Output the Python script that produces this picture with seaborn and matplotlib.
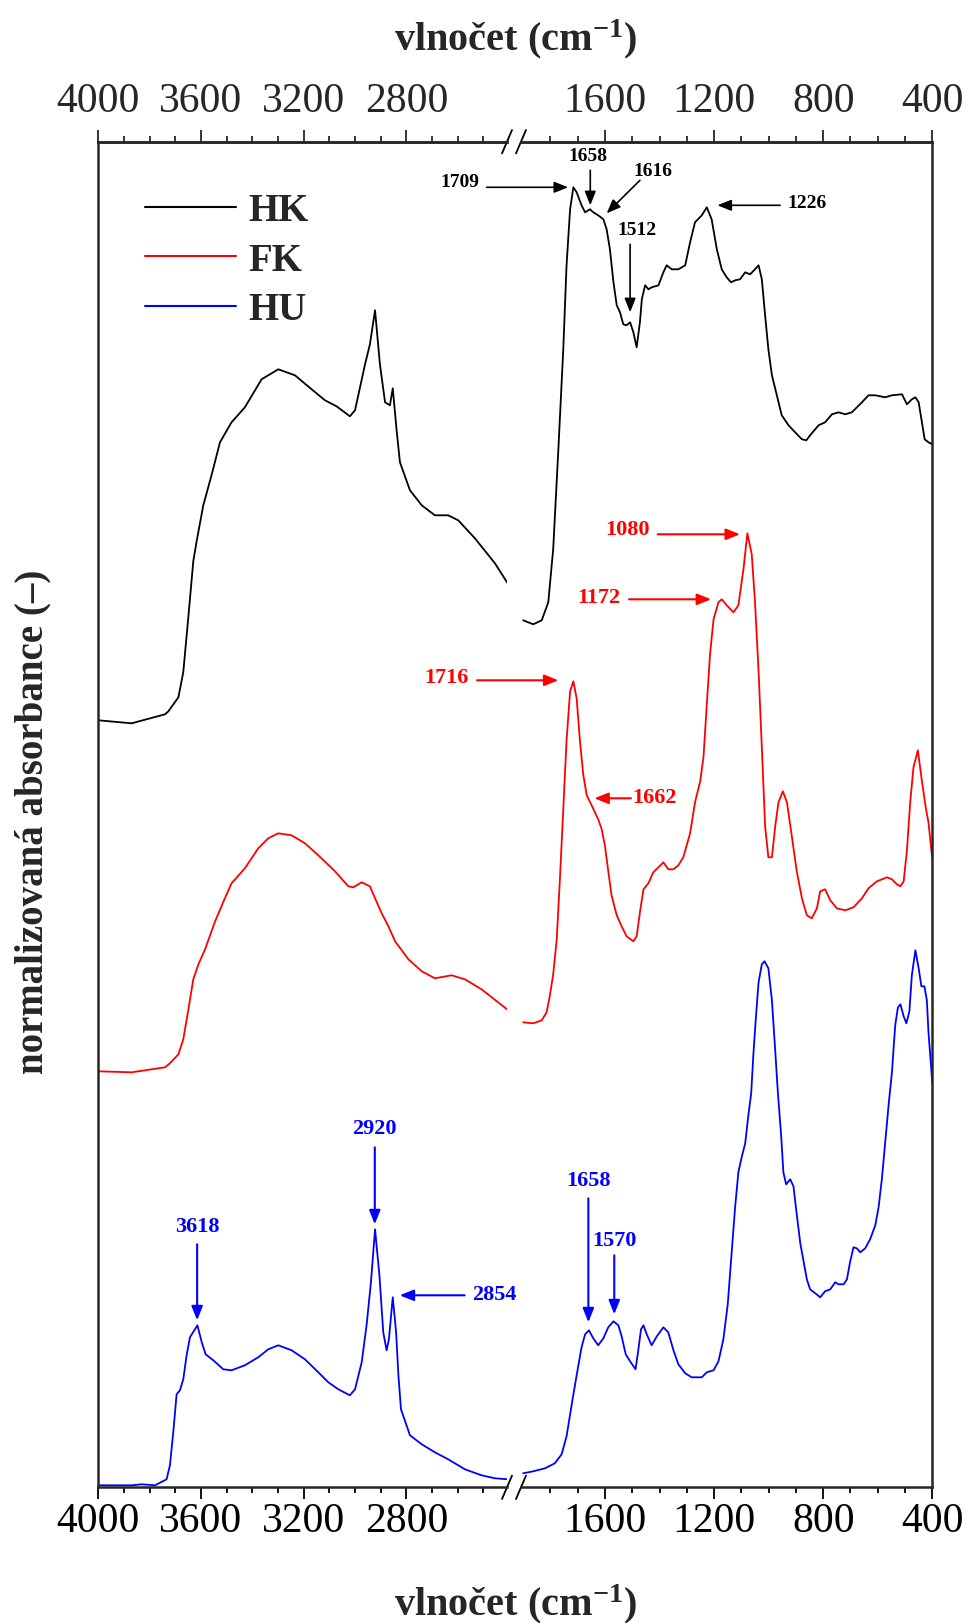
import numpy as np
import pandas as pd
import matplotlib
matplotlib.use('Agg')
import matplotlib.pyplot as plt
from matplotlib.lines import Line2D
from matplotlib.ticker import FixedLocator
import seaborn as sns

# ---------------- data (wavenumber cm-1, stacked normalised absorbance) -------------
samples = ['HK', 'FK', 'HU']
colors = {'HK': '#000000', 'FK': '#ff0000', 'HU': '#0000ff'}

hk_left_w = [4000, 3870, 3740, 3727, 3688, 3669, 3649, 3630, 3617, 3591, 3559, 3526, 3481, 3429,
             3364, 3299, 3234, 3169, 3117, 3072, 3020, 3000, 2961, 2942, 2922, 2903, 2883, 2864,
             2853, 2838, 2825, 2786, 2740, 2689, 2637, 2598, 2533, 2455, 2403]
hk_left_a = [7.67, 7.64, 7.73, 7.76, 7.90, 8.15, 8.71, 9.26, 9.46, 9.82, 10.12, 10.45, 10.65, 10.80,
             11.08, 11.18, 11.12, 10.98, 10.87, 10.81, 10.71, 10.77, 11.23, 11.43, 11.77, 11.23, 10.85,
             10.82, 10.99, 10.57, 10.25, 9.97, 9.82, 9.72, 9.72, 9.67, 9.49, 9.24, 9.03]

fk_left_w = [4000, 3870, 3740, 3721, 3688, 3669, 3649, 3630, 3610, 3584, 3545, 3507, 3481, 3429,
             3377, 3338, 3299, 3247, 3195, 3143, 3078, 3026, 3007, 2974, 2942, 2922, 2896, 2870,
             2844, 2792, 2740, 2689, 2624, 2572, 2507, 2403]
fk_left_a = [4.16, 4.15, 4.20, 4.24, 4.33, 4.48, 4.78, 5.08, 5.23, 5.38, 5.66, 5.89, 6.04, 6.19,
             6.39, 6.49, 6.54, 6.52, 6.44, 6.32, 6.16, 6.01, 6.00, 6.05, 6.01, 5.89, 5.74, 5.61,
             5.46, 5.28, 5.16, 5.09, 5.12, 5.08, 4.98, 4.77]

hu_left_w = [4000, 3870, 3831, 3779, 3734, 3721, 3708, 3695, 3682, 3669, 3656, 3643, 3614, 3597,
             3582, 3552, 3513, 3481, 3429, 3377, 3338, 3299, 3247, 3195, 3143, 3104, 3065, 3020,
             3000, 2974, 2955, 2938, 2922, 2905, 2890, 2877, 2868, 2853, 2840, 2831, 2821, 2786,
             2740, 2689, 2637, 2572, 2507, 2455, 2403]
hu_left_a = [0.02, 0.02, 0.03, 0.02, 0.08, 0.22, 0.55, 0.93, 0.97, 1.08, 1.32, 1.50, 1.62, 1.45,
             1.33, 1.27, 1.18, 1.17, 1.22, 1.30, 1.38, 1.42, 1.37, 1.28, 1.15, 1.05, 0.98, 0.92,
             0.98, 1.25, 1.62, 2.05, 2.58, 2.12, 1.55, 1.37, 1.48, 1.90, 1.55, 1.12, 0.78, 0.52,
             0.43, 0.35, 0.28, 0.18, 0.12, 0.09, 0.08]

hk_right_w = [1900, 1863, 1832, 1808, 1790, 1771, 1753, 1741, 1728, 1716,
              1704, 1686, 1673, 1655, 1643, 1625, 1606, 1594, 1582, 1569,
              1557, 1545, 1533, 1521, 1508, 1496, 1484, 1472, 1465, 1453,
              1441, 1429, 1404, 1386, 1374, 1355, 1331, 1306, 1288, 1270,
              1245, 1227, 1209, 1190, 1172, 1154, 1138, 1123, 1105, 1086,
              1068, 1050, 1037, 1025, 1013, 1001, 988, 970, 952, 927,
              903, 878, 862, 848, 817, 793, 768, 744, 719, 695,
              658, 634, 609, 573, 548, 511, 493, 475, 462, 450,
              438, 428, 414, 400]
hk_right_a = [8.67, 8.63, 8.67, 8.85, 9.38, 10.38, 11.38, 12.22, 12.78, 13.00,
              12.95, 12.82, 12.75, 12.78, 12.75, 12.72, 12.68, 12.58, 12.38, 12.05,
              11.82, 11.75, 11.63, 11.62, 11.65, 11.55, 11.40, 11.65, 11.88, 12.02,
              11.98, 12.00, 12.02, 12.15, 12.22, 12.18, 12.18, 12.22, 12.45, 12.65,
              12.72, 12.80, 12.68, 12.38, 12.18, 12.10, 12.05, 12.07, 12.08, 12.15,
              12.13, 12.18, 12.22, 12.08, 11.72, 11.38, 11.12, 10.92, 10.72, 10.62,
              10.55, 10.48, 10.47, 10.52, 10.62, 10.65, 10.73, 10.75, 10.73, 10.75,
              10.85, 10.92, 10.92, 10.90, 10.92, 10.93, 10.83, 10.88, 10.90, 10.85,
              10.65, 10.48, 10.45, 10.43]

fk_right_w = [1900, 1863, 1832, 1814, 1802, 1790, 1777, 1765, 1753, 1741,
              1728, 1716, 1704, 1692, 1680, 1667, 1649, 1625, 1612, 1600,
              1588, 1576, 1557, 1539, 1521, 1496, 1484, 1472, 1459, 1441,
              1423, 1404, 1386, 1368, 1349, 1331, 1313, 1288, 1270, 1251,
              1239, 1227, 1215, 1202, 1184, 1172, 1154, 1129, 1111, 1092,
              1078, 1062, 1050, 1037, 1025, 1013, 1001, 988, 976, 964,
              948, 933, 915, 897, 878, 860, 842, 823, 811, 793,
              774, 750, 719, 689, 658, 634, 603, 566, 548, 530,
              517, 505, 493, 481, 469, 453, 438, 423, 414, 405,
              400]
fk_right_a = [4.65, 4.64, 4.67, 4.75, 4.92, 5.13, 5.48, 6.10, 6.78, 7.47,
              7.96, 8.06, 7.89, 7.47, 7.13, 6.92, 6.82, 6.68, 6.58, 6.41,
              6.16, 5.92, 5.72, 5.61, 5.51, 5.46, 5.51, 5.75, 5.98, 6.04,
              6.15, 6.20, 6.25, 6.18, 6.18, 6.22, 6.30, 6.54, 6.85, 7.06,
              7.30, 7.82, 8.33, 8.68, 8.85, 8.88, 8.82, 8.75, 8.82, 9.19,
              9.54, 9.33, 8.85, 8.16, 7.40, 6.61, 6.30, 6.30, 6.61, 6.85,
              6.96, 6.85, 6.51, 6.16, 5.89, 5.72, 5.69, 5.79, 5.96, 5.98,
              5.87, 5.79, 5.77, 5.80, 5.89, 5.99, 6.06, 6.10, 6.08, 6.03,
              6.01, 6.06, 6.37, 6.85, 7.20, 7.37, 7.06, 6.78, 6.65, 6.41,
              6.28]

hu_right_w = [1900, 1863, 1820, 1784, 1759, 1741, 1722, 1704, 1686, 1673,
              1659, 1643, 1625, 1606, 1588, 1569, 1551, 1539, 1524, 1508,
              1488, 1478, 1468, 1459, 1447, 1429, 1410, 1386, 1368, 1349,
              1331, 1306, 1282, 1245, 1227, 1202, 1184, 1166, 1150, 1135,
              1123, 1111, 1099, 1086, 1074, 1064, 1056, 1047, 1037, 1025,
              1015, 1001, 988, 976, 966, 954, 946, 936, 921, 909,
              897, 884, 872, 860, 848, 829, 811, 793, 774, 756,
              744, 725, 713, 701, 689, 677, 664, 646, 628, 609,
              597, 585, 573, 560, 548, 536, 526, 517, 505, 495,
              484, 475, 462, 450, 440, 429, 420, 414, 407, 400]
hu_right_a = [0.14, 0.16, 0.19, 0.24, 0.33, 0.51, 0.83, 1.12, 1.40, 1.53,
              1.57, 1.49, 1.42, 1.49, 1.60, 1.66, 1.62, 1.51, 1.33, 1.26,
              1.18, 1.37, 1.58, 1.62, 1.53, 1.42, 1.51, 1.60, 1.55, 1.37,
              1.23, 1.14, 1.10, 1.10, 1.15, 1.17, 1.26, 1.48, 1.83, 2.37,
              2.80, 3.15, 3.30, 3.44, 3.73, 3.94, 4.33, 4.69, 5.05, 5.23,
              5.26, 5.19, 4.87, 4.37, 3.94, 3.51, 3.15, 3.03, 3.08, 3.01,
              2.73, 2.44, 2.26, 2.08, 1.98, 1.94, 1.90, 1.96, 1.98, 2.05,
              2.03, 2.03, 2.08, 2.26, 2.40, 2.39, 2.35, 2.39, 2.48, 2.62,
              2.80, 3.08, 3.44, 3.83, 4.15, 4.62, 4.80, 4.83, 4.71, 4.64,
              4.76, 5.12, 5.37, 5.19, 5.01, 5.01, 4.87, 4.55, 4.30, 4.04]

left_ticks = [4000, 3600, 3200, 2800]
right_ticks = [1600, 1200, 800, 400]

# annotations: label, sample, axis, text(w,a), arrow tail(w,a), arrow head(w,a)
annotations = [
    ('1709', 'HK', 'R', (2132, 13.06), (2034, 13.00), (1735, 13.00)),
    ('1658', 'HK', 'R', (1663, 13.32), (1654, 13.17), (1654, 12.82)),
    ('1616', 'HK', 'R', (1426, 13.17), (1472, 13.07), (1594, 12.74)),
    ('1512', 'HK', 'R', (1481, 12.58), (1508, 12.43), (1508, 11.75)),
    ('1226', 'HK', 'R', (860, 12.85), (958, 12.82), (1188, 12.82)),
    ('1080', 'FK', 'R', (1517, 9.58), (1407, 9.53), (1105, 9.53)),
    ('1172', 'FK', 'R', (1621, 8.90), (1512, 8.88), (1211, 8.88)),
    ('1716', 'FK', 'R', (2182, 8.10), (2069, 8.07), (1771, 8.07)),
    ('1662', 'FK', 'R', (1420, 6.90), (1505, 6.89), (1639, 6.89)),
    ('3618', 'HU', 'L', (3615, 2.61), (3615, 2.43), (3615, 1.67)),
    ('2920', 'HU', 'L', (2925, 3.59), (2923, 3.40), (2923, 2.63)),
    ('2854', 'HU', 'L', (2456, 1.93), (2573, 1.92), (2826, 1.92)),
    ('1658', 'HU', 'R', (1661, 3.07), (1661, 2.89), (1661, 1.65)),
    ('1570', 'HU', 'R', (1566, 2.47), (1566, 2.32), (1566, 1.73)),
]

# ---------------- build long table ----------------
rows = []
for s, (wl, al, wr, ar) in {
        'HK': (hk_left_w, hk_left_a, hk_right_w, hk_right_a),
        'FK': (fk_left_w, fk_left_a, fk_right_w, fk_right_a),
        'HU': (hu_left_w, hu_left_a, hu_right_w, hu_right_a)}.items():
    rows += [dict(sample=s, seg='L', w=w, a=a) for w, a in zip(wl, al)]
    rows += [dict(sample=s, seg='R', w=w, a=a) for w, a in zip(wr, ar)]
df = pd.DataFrame(rows)

# ---------------- style ----------------
sns.set_theme(style='ticks')
plt.rcParams['font.family'] = ['Liberation Serif', 'DejaVu Serif']
plt.rcParams['mathtext.fontset'] = 'custom'
plt.rcParams['mathtext.rm'] = 'Liberation Serif'
plt.rcParams['mathtext.bf'] = 'Liberation Serif:bold'
plt.rcParams['mathtext.it'] = 'Liberation Serif:italic'
plt.rcParams['axes.linewidth'] = 1.8

W, H = 967, 1624
fig = plt.figure(figsize=(W / 100, H / 100), dpi=100)
top_px, bot_px = 142.7, 1488.3
xl0, xl1 = 98.3, 507.0
xr0, xr1 = 521.0, 932.3
axh = (bot_px - top_px) / H
axb = (H - bot_px) / H
axL = fig.add_axes([xl0 / W, axb, (xl1 - xl0) / W, axh])
axR = fig.add_axes([xr0 / W, axb, (xr1 - xr0) / W, axh])
axes = {'L': axL, 'R': axR}

for seg, ax in axes.items():
    d = df[df.seg == seg]
    sns.lineplot(data=d, x='w', y='a', hue='sample', hue_order=samples, palette=colors,
                 sort=False, estimator=None, legend=False, linewidth=1.3, ax=ax)
    ax.set_ylim(0, 13.456)
    ax.set_yticks([])
    ax.set_xlabel('')
    ax.set_ylabel('')
    ax.set_facecolor('white')

axL.set_xlim(4000, 2408)
axR.set_xlim(1908, 400)
axL.spines['right'].set_visible(False)
axR.spines['left'].set_visible(False)

tick_font = 30
for ax, maj, minor in [(axL, left_ticks, list(range(3900, 2400, -100))),
                       (axR, right_ticks, list(range(1800, 399, -100)))]:
    ax.set_xticks(maj)
    ax.xaxis.set_minor_locator(FixedLocator([m for m in minor if m not in maj]))
    ax.tick_params(axis='x', which='both', direction='out', bottom=True, top=False,
                   labelbottom=True, width=1.3, labelsize=tick_font, pad=2, colors='black')
    ax.tick_params(axis='x', which='major', length=8.5)
    ax.tick_params(axis='x', which='minor', length=4.2)
    sec = ax.secondary_xaxis('top')
    sec.set_xticks(maj)
    sec.xaxis.set_minor_locator(FixedLocator([m for m in minor if m not in maj]))
    sec.tick_params(axis='x', which='both', direction='out', width=1.3,
                    labelsize=tick_font, pad=7)
    sec.tick_params(axis='x', which='major', length=8.5)
    sec.tick_params(axis='x', which='minor', length=4.2)
    sec.spines['top'].set_linewidth(1.8)

# axis break marks
for ax, xa in [(axL, 1.0), (axR, 0.0)]:
    bb = ax.get_position()
    dx = 5.0 / (bb.width * W)
    dy = 11.7 / (bb.height * H)
    for ya in (0.0, 1.0):
        ax.plot([xa - dx, xa + dx], [ya - dy, ya + dy], transform=ax.transAxes,
                color='black', lw=1.3, clip_on=False)

# annotations
for label, s, axkey, txt, tail, head in annotations:
    ax = axes[axkey]
    c = colors[s]
    fs = 14 if s == 'HK' else 16
    lw = 1.2 if s == 'HK' else 1.5
    ax.text(txt[0], txt[1], label, color=c, fontsize=fs, fontweight='bold',
            ha='center', va='center', clip_on=False)
    ax.annotate('', xy=head, xytext=tail, annotation_clip=False,
                arrowprops=dict(arrowstyle='-|>,head_length=0.7,head_width=0.28',
                                color=c, lw=lw, shrinkA=0, shrinkB=0, mutation_scale=12))

# legend
handles = [Line2D([0], [0], color=colors[s], lw=1.5) for s in samples]
axL.legend(handles, samples, loc='upper left', bbox_to_anchor=(0.1143, 0.9624),
           frameon=False, prop={'family': 'Liberation Serif', 'weight': 'bold', 'size': 28},
           handlelength=2.35, handletextpad=0.32, labelspacing=0.32,
           borderpad=0, borderaxespad=0)

# axis titles
xlabel = r'vlnočet (cm$^{\mathbf{-1}}$)'
fig.text(515 / W, 1 - 50 / H, xlabel, ha='center', va='baseline', fontsize=29,
         fontweight='bold')
fig.text(515 / W, 1 - 1615 / H, xlabel, ha='center', va='baseline', fontsize=29,
         fontweight='bold')
fig.text(33 / W, 1 - 822 / H, 'normalizovaná absorbance (–)', rotation=90, ha='center',
         va='center', fontsize=28, fontweight='bold')

fig.savefig('out.png', dpi=100, facecolor='white')
